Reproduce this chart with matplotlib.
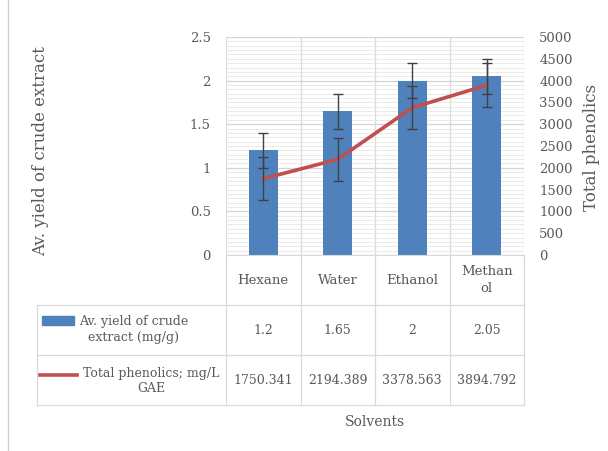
import numpy as np
import matplotlib.pyplot as plt
from matplotlib.lines import Line2D
from matplotlib.patches import Rectangle

# data
solvents = ['Hexane', 'Water', 'Ethanol', 'Methan\nol']
yield_vals = [1.2, 1.65, 2, 2.05]
yield_err = [0.2, 0.2, 0.2, 0.2]
phenolics = [1750.341, 2194.389, 3378.563, 3894.792]
phenolics_err = [500, 500, 500, 500]
yield_txt = ['1.2', '1.65', '2', '2.05']
phen_txt = ['1750.341', '2194.389', '3378.563', '3894.792']

plt.rcParams['font.family'] = ['DejaVu Serif']
grey_txt = '#595959'
W, H = 608, 451
fig = plt.figure(figsize=(W / 100, H / 100), dpi=100)

# pixel layout
L, R, T, B = 226, 524, 37, 255
ax = fig.add_axes([L / W, 1 - B / H, (R - L) / W, (B - T) / H])
x = np.arange(len(solvents))

ax.set_xlim(-0.5, 3.5)
ax.set_ylim(0, 2.5)
ax.set_yticks(np.arange(0, 2.51, 0.5))
ax.set_yticklabels(['0', '0.5', '1', '1.5', '2', '2.5'])
ax.set_yticks(np.arange(0, 2.51, 0.05), minor=True)
ax.set_xticks(np.arange(-0.5, 3.6, 1))
ax.set_xticklabels([])
ax.grid(axis='y', which='minor', color='#E6E6E6', lw=0.6)
ax.grid(axis='y', which='major', color='#D4D4D4', lw=0.9)
ax.grid(axis='x', which='major', color='#D9D9D9', lw=0.9)
ax.set_axisbelow(True)
ax.tick_params(axis='both', which='both', length=0, labelsize=9.5, labelcolor=grey_txt)
ax.tick_params(axis='y', pad=11)
for s in ax.spines.values():
    s.set_visible(False)
ax.spines['bottom'].set_visible(True)
ax.spines['bottom'].set_color('#D9D9D9')

ax.bar(x, yield_vals, width=0.39, color='#4F81BD', zorder=2)
ax.errorbar(x, yield_vals, yerr=yield_err, fmt='none', ecolor='#404040',
            elinewidth=1, capsize=3.5, capthick=1, zorder=4)
ax.set_ylabel('Av. yield of crude extract', fontsize=12, color=grey_txt)
ax.yaxis.set_label_coords((49 - L) / (R - L), (B - 151) / (B - T))

ax2 = ax.twinx()
ax2.set_ylim(0, 5000)
ax2.set_yticks(np.arange(0, 5001, 500))
ax2.tick_params(axis='y', length=0, labelsize=9.5, labelcolor=grey_txt, pad=11)
for s in ax2.spines.values():
    s.set_visible(False)
ax2.plot(x, phenolics, color='#C0504D', lw=2.6, zorder=3)
ax2.errorbar(x, phenolics, yerr=phenolics_err, fmt='none', ecolor='#404040',
             elinewidth=1, capsize=3.5, capthick=1, zorder=4)
ax2.set_ylabel('Total phenolics', fontsize=12, color=grey_txt)
ax2.yaxis.set_label_coords((583 - L) / (R - L), (B - 147) / (B - T))

# table / category row drawn in pixel coordinates
ov = fig.add_axes([0, 0, 1, 1], zorder=-1)
ov.set_xlim(0, W)
ov.set_ylim(H, 0)
ov.axis('off')
lc = '#D9D9D9'
cols = [L + (R - L) * i / 4 for i in range(5)]
r0, r1, r2 = 305, 355, 405
for cx in cols:
    ov.add_line(Line2D([cx, cx], [B, r2], color=lc, lw=0.9))
ov.add_line(Line2D([37, 37], [r0, r2], color=lc, lw=0.9))
for ry in (r0, r1, r2):
    ov.add_line(Line2D([37, R], [ry, ry], color=lc, lw=0.9))
ov.add_line(Line2D([8, 8], [0, H], color='#D0D0D0', lw=1))

for i, name in enumerate(solvents):
    cx = (cols[i] + cols[i + 1]) / 2
    ov.text(cx, 280, name, ha='center', va='center', fontsize=9.5, color=grey_txt,
            linespacing=1.35)
    ov.text(cx, 330, yield_txt[i], ha='center', va='center', fontsize=9, color=grey_txt)
    ov.text(cx, 381, phen_txt[i], ha='center', va='center', fontsize=9, color=grey_txt)

ov.add_patch(Rectangle((42, 316), 32, 9, color='#4F81BD'))
ov.add_line(Line2D([40, 77], [375, 375], color='#C0504D', lw=2.6))
ov.text(134, 330, 'Av. yield of crude\nextract (mg/g)', ha='center', va='center',
        fontsize=9, color=grey_txt, linespacing=1.3)
ov.text(151, 381, 'Total phenolics; mg/L\nGAE', ha='center', va='center',
        fontsize=9, color=grey_txt, linespacing=1.3)
ov.text(375, 422, 'Solvents', ha='center', va='center', fontsize=10, color=grey_txt)

fig.savefig('out.png', dpi=100)
